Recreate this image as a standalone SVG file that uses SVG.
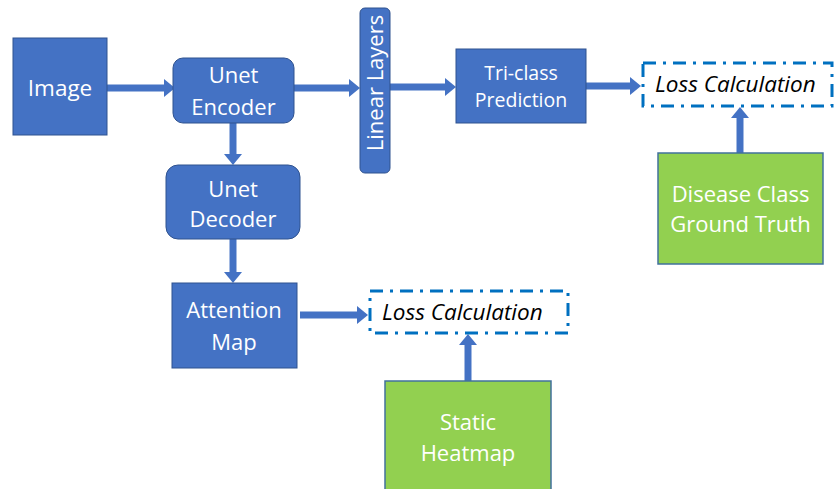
<svg xmlns="http://www.w3.org/2000/svg" width="835" height="489" viewBox="0 0 835 489">
  <style>
    .blue { fill: #4472C4; stroke: #2F528F; stroke-width: 1; }
    .green { fill: #92D050; stroke: #41719C; stroke-width: 1.5; }
    .loss { fill: none; stroke: #0070C0; stroke-width: 3; stroke-dasharray: 13 7 3 7; }
    .lbl { font-family: "Open Sans", "Liberation Sans", sans-serif; fill: #FFFFFF; text-anchor: middle; }
    .it { font-family: "Open Sans", "Liberation Sans", sans-serif; font-style: italic; fill: #000000; font-size: 22.5px; }
    .conn { stroke: #4472C4; stroke-width: 7; fill: none; marker-end: url(#head); }
  </style>
  <defs>
    <marker id="head" markerUnits="userSpaceOnUse" markerWidth="12" markerHeight="18" refX="0" refY="9" orient="auto">
      <path d="M0,0 L11,9 L0,18 Z" fill="#4472C4"/>
    </marker>
  </defs>

  <rect width="835" height="489" fill="#FFFFFF"/>

  <g id="connectors">
    <line class="conn" x1="107" y1="88" x2="164" y2="88"/>
    <line class="conn" x1="294" y1="88" x2="349" y2="88"/>
    <line class="conn" x1="390" y1="87" x2="445" y2="87"/>
    <line class="conn" x1="586" y1="86" x2="630" y2="86"/>
    <line class="conn" x1="233" y1="123" x2="233" y2="154"/>
    <line class="conn" x1="233" y1="239" x2="233" y2="272"/>
    <line class="conn" x1="300" y1="315" x2="357" y2="315"/>
    <line class="conn" x1="740" y1="153" x2="740" y2="118"/>
    <line class="conn" x1="468" y1="381" x2="468" y2="345"/>
  </g>

  <g id="image">
    <rect class="blue" x="13" y="38" width="94" height="97"/>
    <text class="lbl" x="60" y="96" font-size="22.5">Image</text>
  </g>

  <g id="unet-encoder">
    <rect class="blue" x="173" y="58" width="121" height="65" rx="10"/>
    <text class="lbl" x="233.5" y="83" font-size="22">Unet</text>
    <text class="lbl" x="233.5" y="115" font-size="22">Encoder</text>
  </g>

  <g id="linear-layers">
    <rect class="blue" x="360" y="8" width="30" height="165" rx="5"/>
    <text class="lbl" transform="translate(383 83) rotate(-90)" font-size="22">Linear Layers</text>
  </g>

  <g id="tri-class">
    <rect class="blue" x="456" y="49" width="130" height="74"/>
    <text class="lbl" x="521" y="80" font-size="19.5">Tri-class</text>
    <text class="lbl" x="521" y="107" font-size="19.5">Prediction</text>
  </g>

  <g id="loss-class">
    <rect class="loss" x="643" y="63" width="189" height="43"/>
    <text class="it" x="655" y="92">Loss Calculation</text>
  </g>

  <g id="ground-truth">
    <rect class="green" x="658" y="153" width="165" height="111"/>
    <text class="lbl" x="740.5" y="202" font-size="22">Disease Class</text>
    <text class="lbl" x="740.5" y="232" font-size="22">Ground Truth</text>
  </g>

  <g id="unet-decoder">
    <rect class="blue" x="166" y="165" width="134" height="74" rx="12"/>
    <text class="lbl" x="233" y="197" font-size="22">Unet</text>
    <text class="lbl" x="233" y="227" font-size="22">Decoder</text>
  </g>

  <g id="attention-map">
    <rect class="blue" x="172" y="283" width="125" height="85"/>
    <text class="lbl" x="234" y="318" font-size="22">Attention</text>
    <text class="lbl" x="234" y="350" font-size="22">Map</text>
  </g>

  <g id="loss-attention">
    <rect class="loss" x="370" y="291" width="198" height="42"/>
    <text class="it" x="382" y="320">Loss Calculation</text>
  </g>

  <g id="static-heatmap">
    <rect class="green" x="385" y="381" width="166" height="110"/>
    <text class="lbl" x="468" y="430" font-size="22">Static</text>
    <text class="lbl" x="468" y="461" font-size="22">Heatmap</text>
  </g>
</svg>
